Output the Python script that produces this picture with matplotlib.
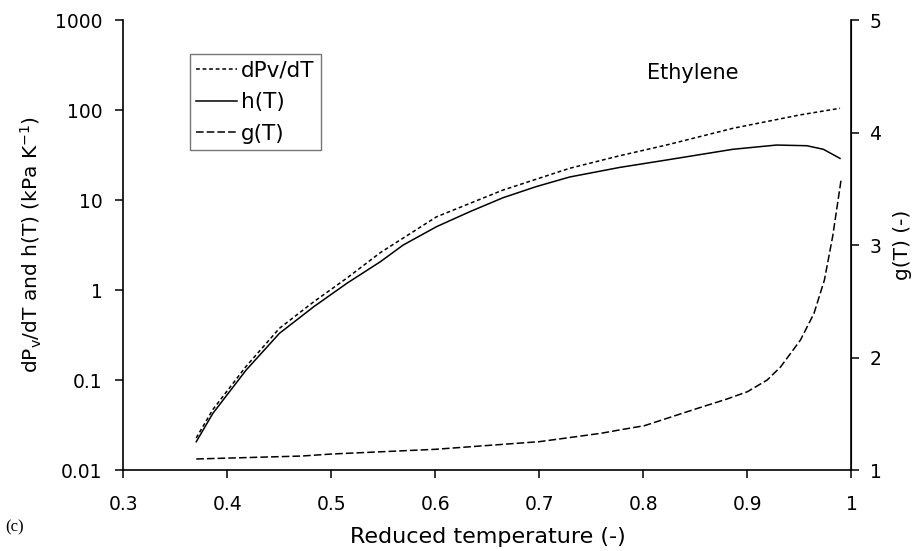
import matplotlib.pyplot as plt

plt.rcParams['font.family'] = ['DejaVu Sans']

# reduced temperature and curves
T_dpv = [0.370, 0.386, 0.418, 0.450, 0.483, 0.515, 0.547, 0.601, 0.665, 0.729,
         0.777, 0.822, 0.886, 0.950, 0.989]
dpv = [0.0227, 0.047, 0.142, 0.375, 0.74, 1.36, 2.6, 6.5, 12.9, 22.5,
       31.0, 40.8, 62.6, 88.0, 104.5]

T_h = [0.370, 0.386, 0.418, 0.450, 0.483, 0.515, 0.547, 0.569, 0.601, 0.633,
       0.665, 0.697, 0.729, 0.777, 0.822, 0.886, 0.928, 0.957, 0.973, 0.989]
h = [0.0206, 0.0426, 0.129, 0.330, 0.652, 1.19, 2.06, 3.16, 5.05, 7.41,
     10.6, 14.1, 18.0, 23.0, 27.8, 36.6, 40.8, 40.1, 36.6, 29.0]

T_g = [0.370, 0.471, 0.500, 0.600, 0.700, 0.759, 0.777, 0.801, 0.852, 0.880,
       0.900, 0.919, 0.932, 0.951, 0.964, 0.974, 0.982, 0.990]
g = [1.098, 1.124, 1.142, 1.184, 1.252, 1.326, 1.356, 1.394, 1.548, 1.63,
     1.696, 1.80, 1.918, 2.156, 2.393, 2.689, 3.08, 3.578]

xticks = [0.3, 0.4, 0.5, 0.6, 0.7, 0.8, 0.9, 1.0]
xticklabels = ['0.3', '0.4', '0.5', '0.6', '0.7', '0.8', '0.9', '1']
yticks = [0.01, 0.1, 1, 10, 100, 1000]
yticklabels = ['0.01', '0.1', '1', '10', '100', '1000']
gticks = [1, 2, 3, 4, 5]

fig = plt.figure(figsize=(9.21, 5.51), dpi=100)
ax = fig.add_axes([0.134, 0.147, 0.7905, 0.8167])
ax2 = ax.twinx()

l1, = ax.plot(T_dpv, dpv, color='black', lw=1.1, linestyle=(0, (2.5, 1.8)))
l2, = ax.plot(T_h, h, color='black', lw=1.1, linestyle='-')
l3, = ax2.plot(T_g, g, color='black', lw=1.1, linestyle=(0, (5, 2)))

ax.set_yscale('log')
ax.set_xlim(0.3, 1.0)
ax.set_ylim(0.01, 1000)
ax2.set_ylim(1, 5)

ax.set_xticks(xticks)
ax.set_xticklabels(xticklabels)
ax.set_yticks(yticks)
ax.set_yticklabels(yticklabels)
ax.minorticks_off()
ax2.set_yticks(gticks)

for a in (ax, ax2):
    a.spines['top'].set_visible(False)
    a.tick_params(direction='out', length=6, width=1.1, labelsize=13.5)
ax.tick_params(axis='x', pad=12)
ax.tick_params(axis='y', pad=9)
ax2.tick_params(axis='y', pad=7)
ax.spines['left'].set_linewidth(1.2)
ax.spines['bottom'].set_linewidth(1.2)
ax2.spines['right'].set_linewidth(1.2)
ax2.spines['left'].set_visible(False)
ax2.spines['bottom'].set_visible(False)

ax.set_xlabel('Reduced temperature (-)', fontsize=16, labelpad=9)
ax.set_ylabel('dP$_\\mathregular{v}$/dT and h(T) (kPa K$^\\mathregular{-1}$)', fontsize=14.5, labelpad=8)
ax2.set_ylabel('g(T) (-)', fontsize=14.5, labelpad=8)

leg = ax.legend([l1, l2, l3], ['dPv/dT', 'h(T)', 'g(T)'],
                loc='upper left', bbox_to_anchor=(0.091, 0.925), borderaxespad=0,
                fontsize=15.5, fancybox=False, frameon=True, handlelength=1.9,
                handletextpad=0.2, borderpad=0.3, labelspacing=0.55)
leg.get_frame().set_edgecolor('#555555')
leg.get_frame().set_linewidth(1.0)

ax.text(0.782, 0.882, 'Ethylene', transform=ax.transAxes, fontsize=15,
        ha='center', va='center')
fig.text(0.006, 0.035, '(c)', fontsize=12, family='Liberation Serif')

fig.savefig('out.png', dpi=100)
